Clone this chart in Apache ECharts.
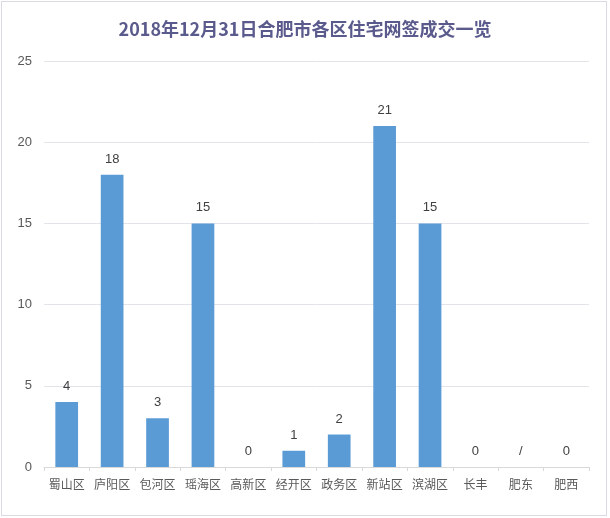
<!DOCTYPE html>
<html>
<head>
<meta charset="utf-8">
<script src="https://cdn.jsdelivr.net/npm/echarts@6/dist/echarts.min.js"></script>
<style>
html,body{margin:0;padding:0;background:#fff;}
#wrap{position:absolute;left:1px;top:1px;width:606px;height:515px;border:1px solid #d9dae3;box-sizing:border-box;}
#c{width:610px;height:518px;position:absolute;left:0;top:0;}
</style>
</head>
<body>
<div id="wrap"></div>
<div id="c"></div>
<script>
const titleText = '2018年12月31日合肥市各区住宅网签成交一览';
const categories = ['蜀山区','庐阳区','包河区','瑶海区','高新区','经开区','政务区','新站区','滨湖区','长丰','肥东','肥西'];
const values = [4, 18, 3, 15, 0, 1, 2, 21, 15, 0, 0, 0];
const valueLabels = ['4','18','3','15','0','1','2','21','15','0','/','0'];
const yTicks = [0, 5, 10, 15, 20, 25];

const chart = echarts.init(document.getElementById('c'), null, {renderer:'canvas'});
chart.setOption({
  backgroundColor: 'transparent',
  animation: false,
  title: {
    text: titleText,
    left: 'center',
    top: 15,
    textStyle: {fontSize: 18, fontWeight: 'bold', color: '#5a5a8c', fontFamily: '"Noto Sans CJK SC", sans-serif'}
  },
  grid: {left: 44, right: 21, top: 61, bottom: 51},
  xAxis: {
    type: 'category',
    data: categories,
    axisLine: {lineStyle: {color: '#d9d9d9'}},
    axisTick: {show: true, length: 4, lineStyle: {color: '#d9d9d9'}},
    axisLabel: {interval: 0, color: '#595959', fontSize: 12, margin: 11, fontFamily: '"Noto Sans CJK SC", sans-serif'}
  },
  yAxis: {
    type: 'value',
    min: yTicks[0],
    max: yTicks[yTicks.length - 1],
    interval: 5,
    axisLine: {show: false},
    axisTick: {show: false},
    splitLine: {lineStyle: {color: '#e3e3ea'}},
    axisLabel: {color: '#595959', fontSize: 13, margin: 12, fontFamily: 'Liberation Sans, Arial, sans-serif'}
  },
  series: [{
    type: 'bar',
    data: values,
    barWidth: '50%',
    itemStyle: {color: '#5b9bd5'},
    label: {
      show: true,
      position: 'top',
      distance: 9,
      color: '#404040',
      fontSize: 13,
      fontFamily: 'Liberation Sans, Arial, sans-serif',
      formatter: p => valueLabels[p.dataIndex]
    }
  }]
});
</script>
</body>
</html>
